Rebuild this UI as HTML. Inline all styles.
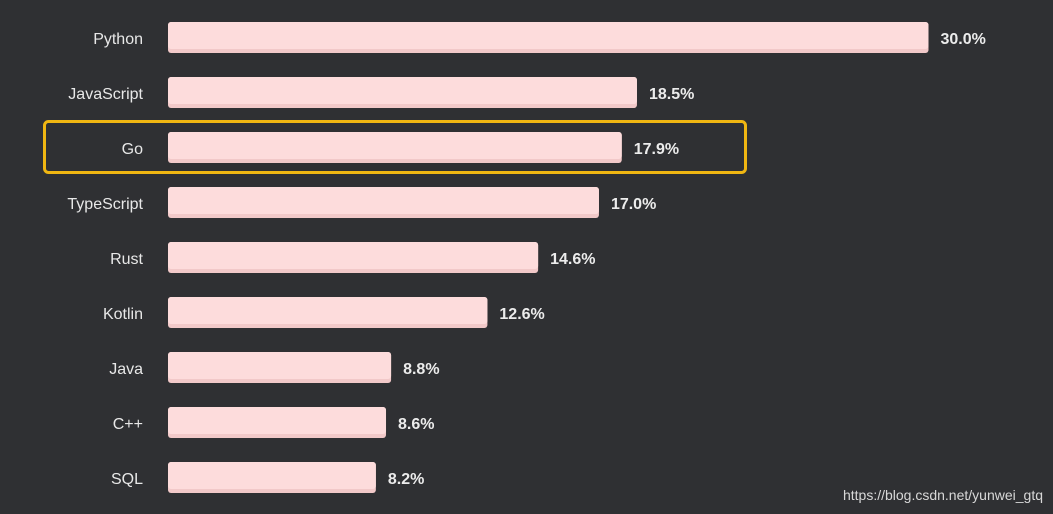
<!DOCTYPE html>
<html><head><meta charset="utf-8"><style>
body{margin:0;background:#2f3033;width:1053px;height:514px;overflow:hidden;font-family:"Liberation Sans",sans-serif}
svg{display:block}
</style></head><body>
<svg id="chart" width="1053" height="514">
<rect x="0" y="0" width="1053" height="514" fill="#2f3033"/>
<rect x="44.5" y="121.5" width="701" height="51" rx="4" fill="none" stroke="#f0b612" stroke-width="3"/>
<g id="bars"></g>
<text x="1043" y="500" text-anchor="end" fill="#d8d8d8" font-size="14">https://blog.csdn.net/yunwei_gtq</text>
</svg>
<script>
const categories=["Python","JavaScript","Go","TypeScript","Rust","Kotlin","Java","C++","SQL"];
const values=[30.0,18.5,17.9,17.0,14.6,12.6,8.8,8.6,8.2];
const valueLabels=["30.0%","18.5%","17.9%","17.0%","14.6%","12.6%","8.8%","8.6%","8.2%"];
const x0=168, scale=25.35;
function xs(v){return x0+v*scale;}
function yc(i){return 38+i*55;}
const g=document.getElementById('bars');
const NS="http://www.w3.org/2000/svg";
categories.forEach((c,i)=>{
  const w=xs(values[i])-x0, y=yc(i);
  const r=document.createElementNS(NS,'rect');
  
  
  r.setAttribute('x',x0);r.setAttribute('y',y-16);r.setAttribute('width',w);r.setAttribute('height',31);r.setAttribute('rx',3);r.setAttribute('fill','#f2c9c9');
  g.appendChild(r);
  const r2=document.createElementNS(NS,'rect');
  
  
  r2.setAttribute('x',x0);r2.setAttribute('y',y-16);r2.setAttribute('width',w);r2.setAttribute('height',27);r2.setAttribute('rx',3);r2.setAttribute('fill','#fddcdc');
  g.appendChild(r2);
  const t=document.createElementNS(NS,'text');
  
  
  t.setAttribute('x',143);t.setAttribute('y',y+6);t.setAttribute('text-anchor','end');t.setAttribute('fill','#e8e8e8');t.setAttribute('font-size','16');
  t.textContent=c;g.appendChild(t);
  const v=document.createElementNS(NS,'text');
  
  
  v.setAttribute('x',xs(values[i])+12);v.setAttribute('y',y+6);v.setAttribute('fill','#ececec');v.setAttribute('font-size','16');v.setAttribute('font-weight','bold');
  v.textContent=valueLabels[i];g.appendChild(v);
});
</script>
</body></html>
